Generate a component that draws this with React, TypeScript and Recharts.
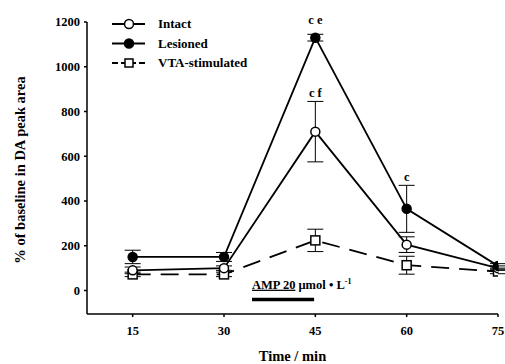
import React from 'react';
import { LineChart, Line, XAxis, YAxis, ErrorBar, ReferenceDot, ReferenceLine } from 'recharts';

const times = [15, 30, 45, 60, 75];
const intact = [90, 100, 710, 205, 100];
const intactErr = [15, 10, 135, 35, 10];
const lesioned = [150, 150, 1130, 365, 110];
const lesionedErr = [30, 20, 15, 105, 10];
const vta = [72, 72, 224, 113, 85];
const vtaErr = [10, 10, 50, 40, 10];
const yTicks = [0, 200, 400, 600, 800, 1000, 1200];
const xTicks = [15, 30, 45, 60, 75];

const data = times.map((t, i) => ({
  time: t,
  intact: intact[i],
  intactErr: intactErr[i],
  lesioned: lesioned[i],
  lesionedErr: lesionedErr[i],
  vta: vta[i],
  vtaErr: vtaErr[i],
}));

const font = 'Liberation Serif, Times New Roman, serif';

const SquareDot = (props: any) => {
  const { cx, cy } = props;
  if (cx == null || cy == null) return null;
  return <rect x={cx - 4.5} y={cy - 4.5} width={9} height={9} fill="#fff" stroke="#000" strokeWidth={1.5} />;
};

const legendItems = [
  { name: 'Intact', kind: 'open', dash: undefined },
  { name: 'Lesioned', kind: 'filled', dash: undefined },
  { name: 'VTA-stimulated', kind: 'square', dash: '6 3' },
];

const LegendBox = () => (
  <svg width={200} height={70} style={{ position: 'absolute', left: 110, top: 16, overflow: 'visible' }}>
    {legendItems.map((it, i) => {
      const y = 8 + i * 19.5;
      return (
        <g key={it.name}>
          <line x1={2} x2={35} y1={y} y2={y} stroke="#000" strokeWidth={1.8} strokeDasharray={it.dash} />
          {it.kind === 'square' ? (
            <rect x={15} y={y - 4} width={8} height={8} fill="#fff" stroke="#000" strokeWidth={1.5} />
          ) : (
            <circle cx={19} cy={y} r={4.5} fill={it.kind === 'filled' ? '#000' : '#fff'} stroke="#000" strokeWidth={1.5} />
          )}
          <text x={48} y={y + 4} fontFamily={font} fontWeight="bold" fontSize={13} fill="#000">
            {it.name}
          </text>
        </g>
      );
    })}
  </svg>
);

const AmpLabel = (props: any) => {
  const vb = props.viewBox || {};
  const x = vb.x ?? vb.cx;
  const y = vb.y ?? vb.cy;
  return (
    <text x={x} y={y} fontFamily={font} fontWeight="bold" fontSize={12.5} fill="#000">
      <tspan textDecoration="underline">AMP 20</tspan>
      <tspan> μmol • L</tspan>
      <tspan dy={-5} fontSize={8}>-1</tspan>
    </text>
  );
};

const YLabel = () => (
  <text
    x={20}
    y={170}
    transform="rotate(-90 20 170)"
    textAnchor="middle"
    dominantBaseline="central"
    fontFamily={font}
    fontWeight="bold"
    fontSize={14.5}
    fill="#000"
  >
    % of baseline in DA peak area
  </text>
);

export default function App() {
  return (
    <div style={{ position: 'absolute', left: 0, top: 0, width: 505, height: 364, background: '#fff', fontFamily: font }}>
      <LineChart width={505} height={364} data={data} margin={{ top: 22, right: 7, bottom: 0, left: 0 }}>
        <XAxis
          dataKey="time"
          type="number"
          domain={[7.5, 75]}
          ticks={xTicks}
          allowDataOverflow
          height={50}
          stroke="#000"
          strokeWidth={1.5}
          tickSize={3}
          tickMargin={9}
          tick={{ fontFamily: font, fontWeight: 'bold', fontSize: 12.5, fill: '#000' }}
          label={{ value: 'Time / min', position: 'insideBottom', offset: 3, fontFamily: font, fontWeight: 'bold', fontSize: 14.5, fill: '#000' }}
        />
        <YAxis
          type="number"
          domain={[-105, 1200]}
          ticks={yTicks}
          allowDataOverflow
          width={87}
          stroke="#000"
          strokeWidth={1.5}
          tickSize={3}
          tickMargin={4}
          tick={{ fontFamily: font, fontWeight: 'bold', fontSize: 12.5, fill: '#000' }}
        />
        <ReferenceLine
          segment={[{ x: 34.6, y: -40 }, { x: 44.8, y: -40 }]}
          stroke="#000"
          strokeWidth={3.5}
        />
        <ReferenceDot x={34.6} y={8} r={0} fill="none" stroke="none" label={<AmpLabel />} />
        <Line
          dataKey="vta"
          stroke="#000"
          strokeWidth={1.8}
          strokeDasharray="18 10"
          dot={<SquareDot />}
          isAnimationActive={false}
        >
          <ErrorBar dataKey="vtaErr" direction="y" width={8} stroke="#000" strokeWidth={1} />
        </Line>
        <Line
          dataKey="intact"
          stroke="#000"
          strokeWidth={1.8}
          dot={{ r: 4.5, fill: '#fff', stroke: '#000', strokeWidth: 1.5 }}
          isAnimationActive={false}
        >
          <ErrorBar dataKey="intactErr" direction="y" width={8} stroke="#000" strokeWidth={1} />
        </Line>
        <Line
          dataKey="lesioned"
          stroke="#000"
          strokeWidth={1.8}
          dot={{ r: 4.5, fill: '#000', stroke: '#000', strokeWidth: 1.5 }}
          isAnimationActive={false}
        >
          <ErrorBar dataKey="lesionedErr" direction="y" width={8} stroke="#000" strokeWidth={1} />
        </Line>
        <ReferenceDot x={45} y={1130} r={0} fill="none" stroke="none"
          label={{ value: 'c e', position: 'top', offset: 14, fontFamily: font, fontWeight: 'bold', fontSize: 12.5, fill: '#000' }} />
        <ReferenceDot x={45} y={845} r={0} fill="none" stroke="none"
          label={{ value: 'c f', position: 'top', offset: 4, fontFamily: font, fontWeight: 'bold', fontSize: 12.5, fill: '#000' }} />
        <ReferenceDot x={60} y={470} r={0} fill="none" stroke="none"
          label={{ value: 'c', position: 'top', offset: 4, fontFamily: font, fontWeight: 'bold', fontSize: 12.5, fill: '#000' }} />
      </LineChart>
      <svg width={505} height={364} style={{ position: 'absolute', left: 0, top: 0, pointerEvents: 'none' }}>
        <YLabel />
      </svg>
      <LegendBox />
    </div>
  );
}
